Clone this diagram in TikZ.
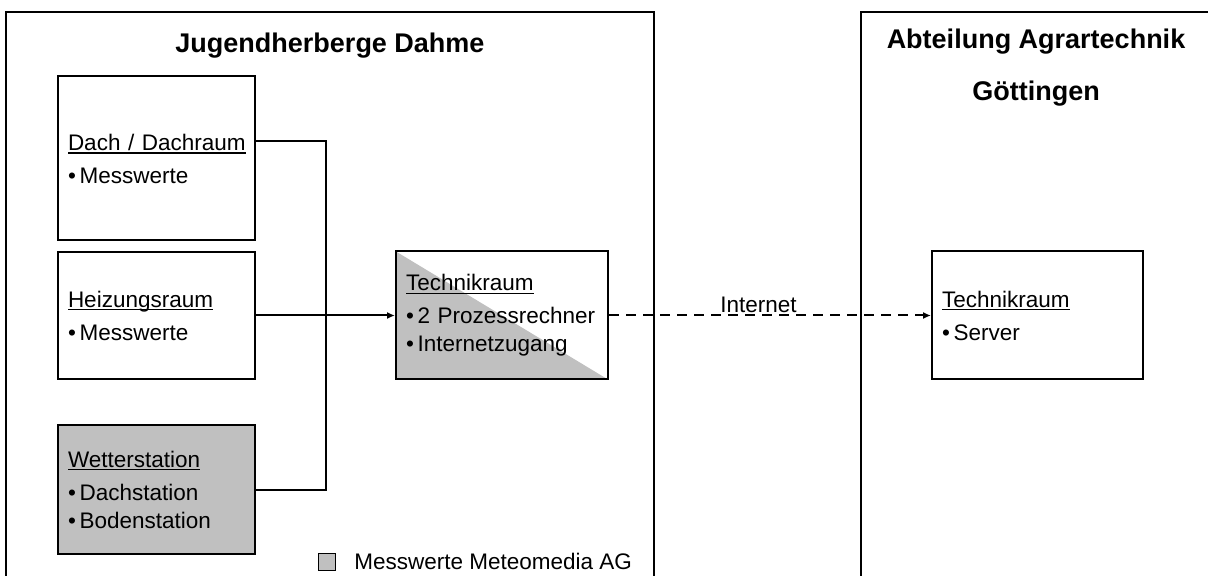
\documentclass[tikz,border=0pt]{standalone}
\usepackage{fontspec}
\setmainfont{Liberation Sans}
\usetikzlibrary{positioning,arrows.meta}

\definecolor{meteogray}{RGB}{192,192,192}
\newcommand{\roomfont}{\fontsize{11.25}{14}\selectfont}
\newcommand{\roomhead}[1]{\setbox0\hbox{#1}\rlap{\rule[-1.7pt]{\wd0}{0.8pt}}\box0}

\begin{document}
\begin{tikzpicture}[x=0.5pt, y=-0.5pt,
				frame/.style={draw=black, line width=1pt},
				title/.style={font=\fontsize{13.5}{16}\selectfont\bfseries, inner sep=0pt},
				room/.style={rectangle, draw=black, line width=1pt, inner xsep=5pt, inner ysep=0pt, align=left, font=\roomfont},
				meteo/.style={room, fill=meteogray},
				halfmeteo/.style={room, path picture={\fill[meteogray] (path picture bounding box.north west) -- (path picture bounding box.south west) -- (path picture bounding box.south east) -- cycle;}},
				legendbox/.style={rectangle, draw=black, line width=0.5pt, fill=meteogray, minimum size=8.5pt, inner sep=0pt},
				legendtext/.style={inner sep=0pt, font=\roomfont}
			]
			\clip (0,0) rectangle (1208,576);
			\draw[frame] (6,12) rectangle (654,620);
			\draw[frame] (861,12) rectangle (1240,620);
			\node[title, anchor=base] (herberge) at (330,53) {Jugendherberge Dahme};
			\node[title, anchor=base] (abteilung) at (1036,49) {Abteilung Agrartechnik};
			\node[title, anchor=base] (goettingen) at (1036,101) {Göttingen};
			\node[room, anchor=north west, text width=88.5pt, minimum height=82pt, text depth=15.5pt] (dach) at (57,75) {\roomhead{Dach / Dachraum}\\[2.5pt]•\,Messwerte};
			\node[room, text width=88.5pt, minimum height=63.5pt] (heizung) [below=5pt of dach] {\roomhead{Heizungsraum}\\[2.5pt]•\,Messwerte};
			\node[meteo, text width=88.5pt, minimum height=64.5pt] (wetter) [below=22pt of heizung] {\roomhead{Wetterstation}\\[2.5pt]•\,Dachstation\\•\,Bodenstation};
			\node[halfmeteo, text width=96pt, minimum height=64pt] (technik) [right=69.5pt of heizung] {\roomhead{Technikraum}\\[2.5pt]•\,2 Prozessrechner\\•\,Internetzugang};
			\node[room, text width=95.5pt, minimum height=64pt] (server) [right=161pt of technik] {\roomhead{Technikraum}\\[2.5pt]•\,Server};
			\node[legendbox] (legendbox) at (327,561.5) {};
			\node[legendtext, right=9pt of legendbox] (legendtext) {Messwerte Meteomedia AG};
			\coordinate (bus) at (326,317);
			\begin{scope}[line width=1pt, -{Latex[length=4pt,width=3.5pt]}]
			\draw[-] ([yshift=8.25pt]dach.east) -| (bus) |- (wetter.east);
			\draw (heizung.east) -- (technik.west);
			\draw[dash pattern=on 5pt off 3.5pt] (technik.east) -- node[pos=0.464, anchor=base, yshift=1.5pt, inner sep=0pt, font=\roomfont] (internet) {Internet} (server.west);
			\end{scope}
			\end{tikzpicture}
\end{document}
